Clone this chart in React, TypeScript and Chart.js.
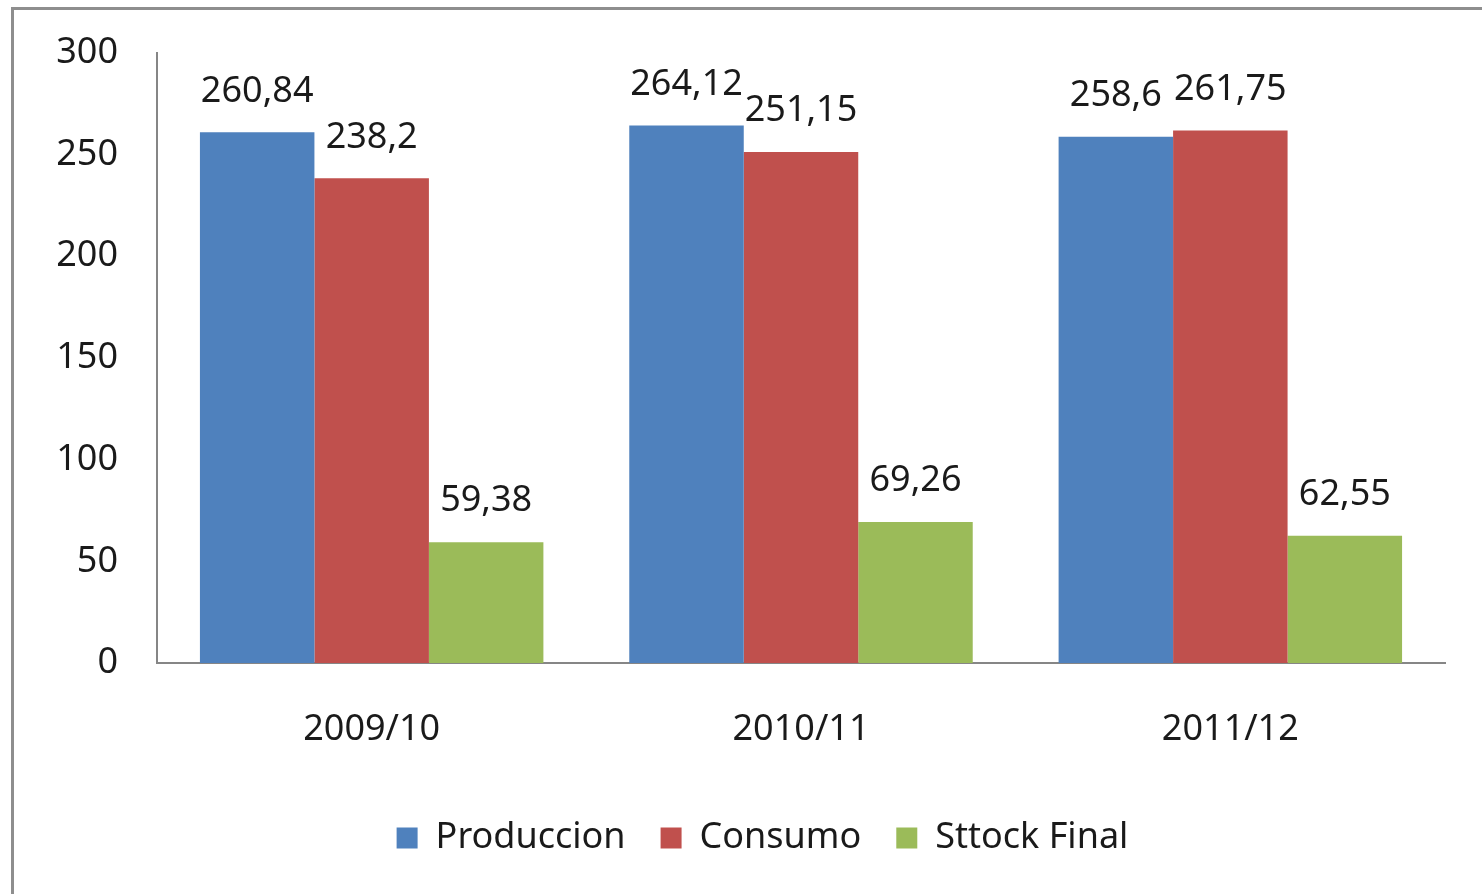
import React, { useEffect, useRef } from "react";
import { Chart, registerables } from "chart.js";

Chart.register(...registerables);

const categories = ["2009/10", "2010/11", "2011/12"];
const produccion = [260.84, 264.12, 258.6];
const consumo = [238.2, 251.15, 261.75];
const stockFinal = [59.38, 69.26, 62.55];
const seriesNames = ["Produccion", "Consumo", "Sttock Final"];
const yTicks = [0, 50, 100, 150, 200, 250, 300];

const FONT = "'Noto Sans', sans-serif";

const fmt = (v: number) => String(v).replace(".", ",");

const valueLabels = {
  id: "valueLabels",
  afterDatasetsDraw(chart: any) {
    const ctx = chart.ctx;
    ctx.save();
    ctx.font = `36px ${FONT}`;
    ctx.fillStyle = "#1a1a1a";
    ctx.textAlign = "center";
    ctx.textBaseline = "middle";
    chart.data.datasets.forEach((ds: any, di: number) => {
      const meta = chart.getDatasetMeta(di);
      meta.data.forEach((bar: any, i: number) => {
        ctx.fillText(fmt(ds.data[i]), bar.x, bar.y - 41);
      });
    });
    ctx.restore();
  },
};

const shiftLegend = {
  id: "shiftLegend",
  afterLayout(chart: any) {
    if (chart.legend) {
      chart.legend.left += 40;
      chart.legend.right += 40;
    }
  },
};

export default function App() {
  const ref = useRef<HTMLCanvasElement>(null);
  useEffect(() => {
    if (!ref.current) return;
    const chart = new Chart(ref.current, {
      type: "bar",
      data: {
        labels: categories,
        datasets: [
          { label: seriesNames[0], data: produccion, backgroundColor: "#4F81BD" },
          { label: seriesNames[1], data: consumo, backgroundColor: "#C0504D" },
          { label: seriesNames[2], data: stockFinal, backgroundColor: "#9BBB59" },
        ],
      },
      options: {
        responsive: false,
        animation: false,
        devicePixelRatio: 1,
        layout: { padding: { left: 0, top: 44, right: 37, bottom: 28 } },
        datasets: { bar: { categoryPercentage: 0.8, barPercentage: 1.0 } },
        plugins: {
          tooltip: { enabled: false },
          legend: {
            position: "bottom",
            labels: {
              font: { family: FONT, size: 36 },
              color: "#1a1a1a",
              boxWidth: 21,
              boxHeight: 21,
              padding: 35,
            },
          },
        },
        scales: {
          x: {
            grid: { display: false },
            border: { display: true, color: "#868686", width: 2 },
            ticks: { font: { family: FONT, size: 36 }, color: "#1a1a1a", padding: 37 },
            afterFit: (s: any) => { s.height = 122; },
          },
          y: {
            min: 0,
            max: 300,
            afterBuildTicks: (s: any) => { s.ticks = yTicks.map((v) => ({ value: v })); },
            grid: { display: false },
            border: { display: true, color: "#868686", width: 2 },
            ticks: { font: { family: FONT, size: 36 }, color: "#1a1a1a", padding: 31 },
            afterFit: (s: any) => { s.width = 157; },
          },
        },
      },
      plugins: [valueLabels, shiftLegend],
    });
    return () => chart.destroy();
  }, []);
  return (
    <div style={{ position: "absolute", left: 0, top: 0, width: 1482, height: 894, overflow: "hidden", background: "#fff" }}>
      <div style={{ position: "absolute", left: 11, top: 7, width: 2000, height: 2000, border: "3px solid #8e8e8e" }} />
      <canvas ref={ref} width={1482} height={894} style={{ position: "absolute", left: 0, top: 0 }} />
    </div>
  );
}
